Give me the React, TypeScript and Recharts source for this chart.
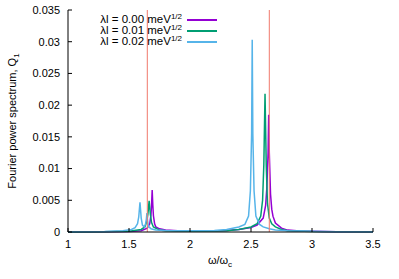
import { LineChart, Line, XAxis, YAxis, ReferenceLine } from 'recharts';

// omega / omega_c and spectrum values
const omega0 = [1.0, 1.3, 1.5, 1.6, 1.65, 1.67, 1.68, 1.685, 1.69, 1.695, 1.7, 1.71, 1.72, 1.75, 1.8, 1.9, 2.0, 2.1, 2.2, 2.3, 2.4, 2.5, 2.55, 2.6, 2.62, 2.63, 2.64, 2.645, 2.65, 2.66, 2.67, 2.68, 2.7, 2.75, 2.8, 2.9, 3.0, 3.2, 3.5];
const q0 = [0.0, 0.00002, 0.00006, 0.0002, 0.0006, 0.0013, 0.0027, 0.0043, 0.0066, 0.0043, 0.0026, 0.0013, 0.0008, 0.0005, 0.0003, 0.0002, 0.00018, 0.00018, 0.0002, 0.00025, 0.0004, 0.0007, 0.0011, 0.0022, 0.0042, 0.007, 0.0125, 0.0185, 0.0125, 0.006, 0.0036, 0.0025, 0.0014, 0.0006, 0.0003, 0.00015, 0.0001, 0.00005, 0.00002];

const omega1 = [1.0, 1.3, 1.5, 1.6, 1.63, 1.645, 1.655, 1.665, 1.675, 1.685, 1.7, 1.75, 1.8, 2.0, 2.2, 2.3, 2.4, 2.5, 2.55, 2.58, 2.595, 2.605, 2.615, 2.625, 2.635, 2.65, 2.67, 2.7, 2.75, 2.8, 3.0, 3.5];
const q1 = [0.0, 0.00002, 0.0001, 0.0004, 0.0008, 0.0016, 0.0028, 0.0049, 0.0028, 0.0015, 0.0008, 0.0003, 0.0002, 0.00012, 0.00015, 0.0002, 0.0004, 0.0008, 0.0013, 0.0025, 0.005, 0.0105, 0.0218, 0.0105, 0.0045, 0.0022, 0.0013, 0.0008, 0.0004, 0.0002, 0.00008, 0.00002];

const omega2 = [1.0, 1.3, 1.45, 1.52, 1.55, 1.57, 1.58, 1.59, 1.6, 1.61, 1.625, 1.635, 1.642, 1.647, 1.652, 1.66, 1.68, 1.72, 1.8, 2.0, 2.2, 2.3, 2.4, 2.45, 2.48, 2.495, 2.505, 2.51, 2.515, 2.525, 2.54, 2.57, 2.6, 2.65, 2.7, 2.8, 3.0, 3.2, 3.5];
const q2 = [0.00002, 0.00006, 0.0002, 0.0004, 0.0007, 0.0013, 0.0024, 0.0047, 0.0022, 0.0011, 0.0008, 0.0012, 0.002, 0.003, 0.0018, 0.0009, 0.0005, 0.0003, 0.00022, 0.00018, 0.00025, 0.0004, 0.0008, 0.0012, 0.0025, 0.0065, 0.0155, 0.0303, 0.0155, 0.0065, 0.0025, 0.0012, 0.0008, 0.0005, 0.0003, 0.00018, 0.0001, 0.00005, 0.00002];

const xTicks = [1, 1.5, 2, 2.5, 3, 3.5];
const yTicks = [0, 0.005, 0.01, 0.015, 0.02, 0.025, 0.03, 0.035];
const markers = [1.65, 2.65];

const series = [
  { name: '0.00', color: '#9400d3', data: omega0.map((x, i) => ({ x, y: q0[i] })) },
  { name: '0.01', color: '#009e73', data: omega1.map((x, i) => ({ x, y: q1[i] })) },
  { name: '0.02', color: '#56b4e9', data: omega2.map((x, i) => ({ x, y: q2[i] })) },
];

const FONT = '"Liberation Sans", Arial, sans-serif';
const tickStyle = { fontSize: 11, fill: '#000', fontFamily: FONT };

export default function App() {
  return (
    <div style={{ position: 'absolute', left: 0, top: 0, width: 399, height: 279, background: '#fff', fontFamily: FONT }}>
      <LineChart width={399} height={279} margin={{ top: 10, right: 26, bottom: 0, left: 0 }}>
        <XAxis
          dataKey="x"
          type="number"
          domain={[1, 3.5]}
          ticks={xTicks}
          allowDataOverflow
          height={47}
          tickSize={-4}
          tickMargin={12}
          stroke="#000"
          tick={tickStyle}
          label={{
            content: () => (
              <text x={220} y={264} textAnchor="middle" fontSize={11} fontFamily={FONT} fill="#000">
                ω/ω<tspan fontSize={8} dy={3}>c</tspan>
              </text>
            ),
          }}
        />
        <XAxis xAxisId="top" orientation="top" type="number" domain={[1, 3.5]} ticks={xTicks} height={0} tickSize={-4} tick={false} stroke="#000" />
        <YAxis
          type="number"
          domain={[0, 0.035]}
          ticks={yTicks}
          width={68}
          tickSize={-4}
          tickMargin={12}
          stroke="#000"
          tick={tickStyle}
          label={{
            content: () => (
              <text x={0} y={0} transform="translate(16,121) rotate(-90)" textAnchor="middle" fontSize={11} fontFamily={FONT} fill="#000">
                Fourier power spectrum, Q<tspan fontSize={8} dy={3}>1</tspan>
              </text>
            ),
          }}
        />
        <YAxis yAxisId="right" orientation="right" type="number" domain={[0, 0.035]} ticks={yTicks} width={0} tickSize={-4} tick={false} stroke="#000" />
        {series.map((s) => (
          <Line
            key={s.name}
            data={s.data}
            dataKey="y"
            type="linear"
            stroke={s.color}
            strokeWidth={1.5}
            dot={false}
            isAnimationActive={false}
          />
        ))}
        {markers.map((m) => (
          <ReferenceLine key={m} x={m} stroke="#f0786c" strokeWidth={1} />
        ))}
      </LineChart>

      {series.map((s, i) => (
        <div key={s.name}>
          <div
            style={{
              position: 'absolute',
              left: 0,
              width: 182,
              top: 20 + i * 11 - 8,
              textAlign: 'right',
              fontSize: 11.5,
              lineHeight: '14px',
              color: '#000',
              whiteSpace: 'nowrap',
            }}
          >
            λl = {s.name} meV<span style={{ fontSize: 8, position: 'relative', top: -4 }}>1/2</span>
          </div>
          <div style={{ position: 'absolute', left: 187, width: 30, top: 20 + i * 11 - 0.75, height: 1.5, background: s.color }} />
        </div>
      ))}
    </div>
  );
}
